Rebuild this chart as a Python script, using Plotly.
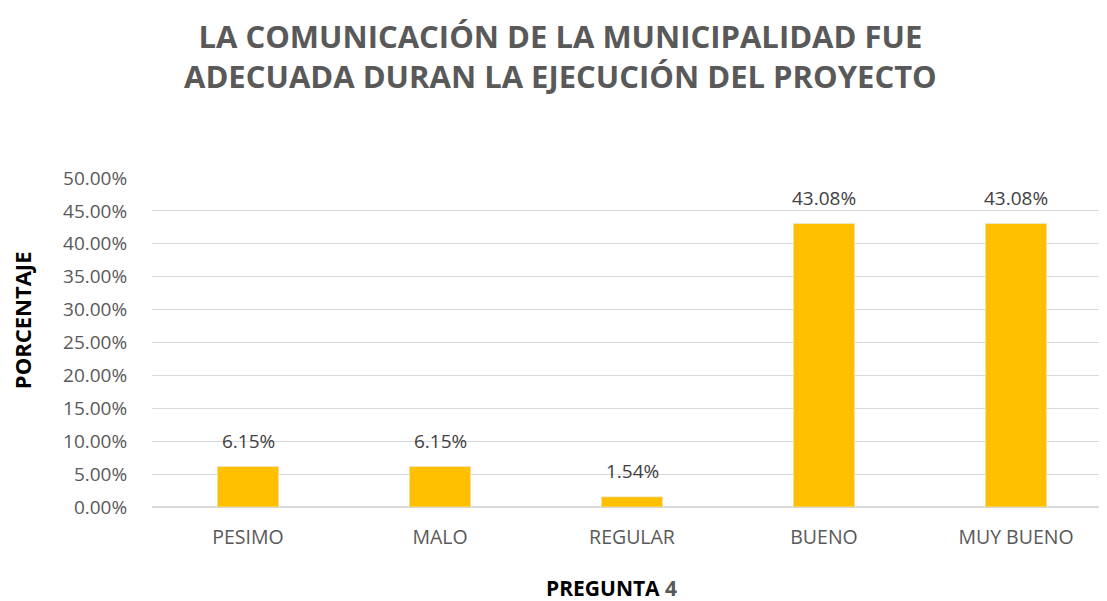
import plotly.graph_objects as go

categorias = ["PESIMO", "MALO", "REGULAR", "BUENO", "MUY BUENO"]
porcentajes = [0.0615, 0.0615, 0.0154, 0.4308, 0.4308]
ticks_y = [0, 0.05, 0.10, 0.15, 0.20, 0.25, 0.30, 0.35, 0.40, 0.45, 0.50]

FONT = "Open Sans, Liberation Sans, sans-serif"

fig = go.Figure()
fig.add_trace(go.Bar(
    x=categorias,
    y=porcentajes,
    marker_color="#FFC000",
    width=0.32,
))

# etiquetas de datos encima de cada barra
etiquetas = [
    dict(x=c, y=v, text=f"{v:.2%}", xref="x", yref="y", showarrow=False,
         yanchor="middle", yshift=26,
         font=dict(size=19, color="#404040", family=FONT))
    for c, v in zip(categorias, porcentajes)
]

fig.update_layout(
    width=1107,
    height=601,
    margin=dict(l=144, r=3, t=170, b=102),
    paper_bgcolor="white",
    plot_bgcolor="white",
    showlegend=False,
    font=dict(family=FONT, color="#595959"),
    annotations=etiquetas + [
        dict(
            text="<b>LA COMUNICACIÓN DE LA MUNICIPALIDAD FUE<br>ADECUADA DURAN LA EJECUCIÓN DEL PROYECTO</b>",
            xref="paper", yref="paper", x=0.426, y=1.37,
            xanchor="center", yanchor="middle", showarrow=False,
            font=dict(size=31, color="#595959", family=FONT),
        ),
        dict(
            text="<b>PREGUNTA <span style='color:#595959'>4</span></b>",
            xref="paper", yref="paper", x=0.479, y=-0.246,
            xanchor="center", yanchor="middle", showarrow=False,
            font=dict(size=21, color="black", family=FONT),
        ),
        dict(
            text="<b>PORCENTAJE</b>",
            xref="paper", yref="paper", x=-0.1354, y=0.568,
            xanchor="center", yanchor="middle", showarrow=False, textangle=-90,
            font=dict(size=22, color="black", family=FONT),
        ),
    ],
)

fig.update_xaxes(
    showline=False,
    tickfont=dict(size=19.5, color="#595959"),
    ticks="outside",
    ticklen=13,
    tickcolor="white",
)
fig.update_yaxes(
    range=[0, 0.5],
    tickvals=ticks_y,
    tickformat=".2%",
    gridcolor="#d9d9d9",
    gridwidth=1,
    zeroline=True,
    zerolinecolor="#d9d9d9",
    tickfont=dict(size=19, color="#595959"),
    ticks="outside",
    ticklen=20,
    tickcolor="white",
)

fig.write_html("out.html")
